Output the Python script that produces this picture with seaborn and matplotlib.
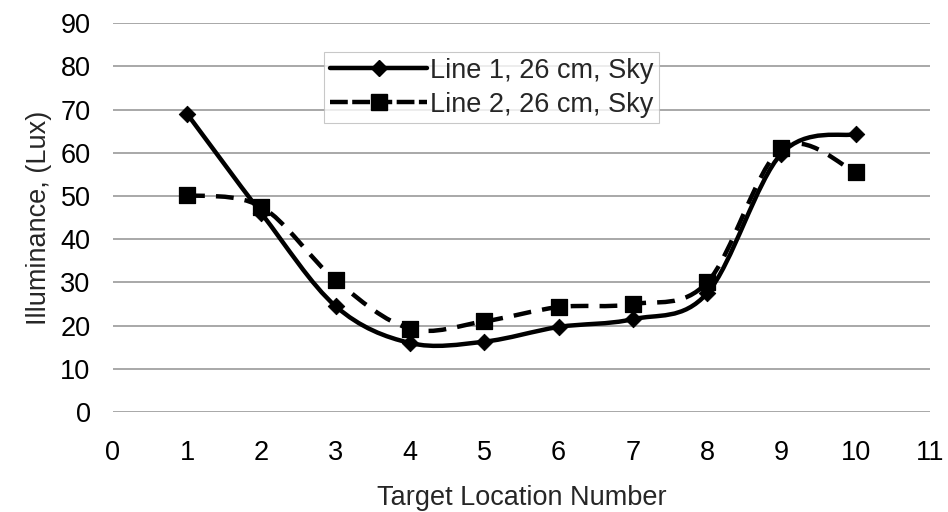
import numpy as np
import pandas as pd
import matplotlib
matplotlib.use('Agg')
import matplotlib.pyplot as plt
from matplotlib.path import Path
from matplotlib.patches import PathPatch
from matplotlib.lines import Line2D
import seaborn as sns

sns.set_style('white')
plt.rcParams['font.family'] = ['Liberation Sans', 'DejaVu Sans']

locations = [1, 2, 3, 4, 5, 6, 7, 8, 9, 10]
line1 = [69, 46, 24.5, 16, 16.3, 19.7, 21.5, 27.5, 59.8, 64.3]
line2 = [50.2, 47.5, 30.5, 19.3, 21, 24.3, 25, 30, 61, 55.5]
labels = ['Line 1, 26 cm, Sky', 'Line 2, 26 cm, Sky']


def smooth_path(x, y):
    # excel style smoothed line: cubic bezier with control points from neighbours
    x = np.asarray(x, float)
    y = np.asarray(y, float)
    verts = [(x[0], y[0])]
    codes = [Path.MOVETO]
    n = len(x)
    for i in range(n - 1):
        p0 = np.array([x[max(i - 1, 0)], y[max(i - 1, 0)]])
        p1 = np.array([x[i], y[i]])
        p2 = np.array([x[i + 1], y[i + 1]])
        p3 = np.array([x[min(i + 2, n - 1)], y[min(i + 2, n - 1)]])
        c1 = p1 + (p2 - p0) / 6
        c2 = p2 - (p3 - p1) / 6
        verts += [tuple(c1), tuple(c2), tuple(p2)]
        codes += [Path.CURVE4] * 3
    return Path(verts, codes)


df = pd.DataFrame({'loc': locations, 'Line 1': line1, 'Line 2': line2})
fs = 19.5

fig = plt.figure(figsize=(9.48, 5.12), dpi=100)
ax = fig.add_axes([0.119, 0.195, 0.862, 0.76])

ax.add_patch(PathPatch(smooth_path(locations, line1), fill=False, lw=3.2, ec='black'))
ax.add_patch(PathPatch(smooth_path(locations, line2), fill=False, lw=3.2, ec='black',
                       linestyle=(0, (4, 2.5))))
sns.scatterplot(data=df, x='loc', y='Line 1', marker='D', s=70, color='black',
                edgecolor='black', ax=ax, zorder=5)
sns.scatterplot(data=df, x='loc', y='Line 2', marker='s', s=130, color='black',
                edgecolor='black', ax=ax, zorder=5)

ax.set_xlim(0, 11)
ax.set_ylim(0, 90)
ax.set_xticks(range(0, 12))
ax.set_yticks(range(0, 100, 10))
ax.yaxis.grid(True, color='#9a9a9a', lw=1.2)
ax.xaxis.grid(False)
for s in ax.spines.values():
    s.set_visible(False)
ax.tick_params(axis='both', length=0, labelsize=fs, colors='black')
ax.tick_params(axis='x', pad=20)
ax.tick_params(axis='y', pad=16)
ax.set_xlabel('Target Location Number', fontsize=fs, labelpad=14)
ax.set_ylabel('Illuminance, (Lux)', fontsize=fs, labelpad=6)

handles = [
    Line2D([], [], color='black', lw=3.2, marker='D', markersize=8),
    Line2D([], [], color='black', lw=3.2, marker='s', markersize=11, linestyle=(0, (4, 1))),
]
leg = ax.legend(handles, labels, loc='upper left', bbox_to_anchor=(0.259, 0.925),
                fontsize=fs, frameon=True, fancybox=False, handlelength=3.6,
                handletextpad=0.1, borderpad=0.2, labelspacing=0.3, borderaxespad=0)
leg.get_frame().set_edgecolor('#bbbbbb')
leg.get_frame().set_linewidth(0.8)

fig.savefig('out.png', dpi=100, facecolor='white')
